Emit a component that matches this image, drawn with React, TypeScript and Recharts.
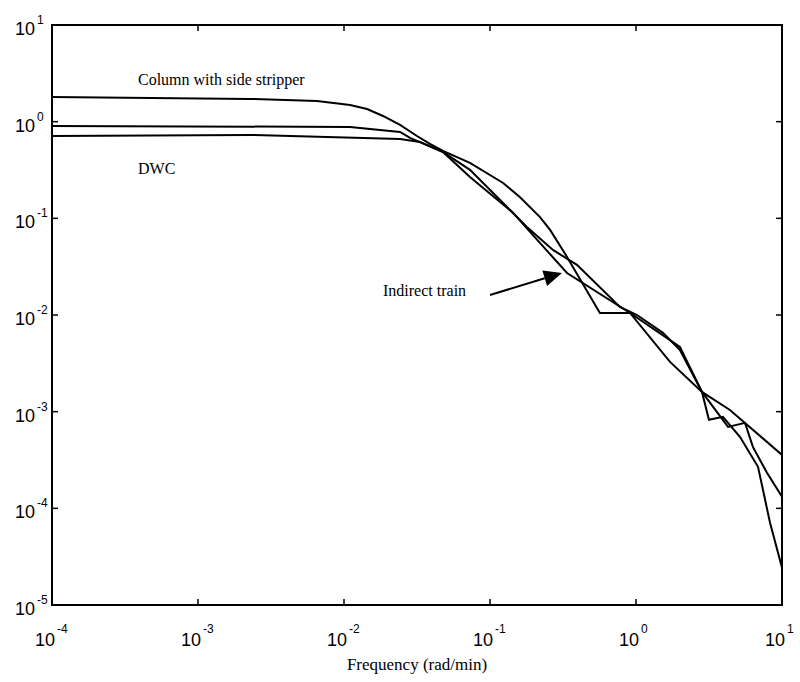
import React from 'react';
import { LineChart, Line, XAxis, YAxis, ReferenceArea, ReferenceLine, ReferenceDot } from 'recharts';

// decade ticks
const xTicks = [1e-4, 1e-3, 1e-2, 1e-1, 1, 10];
const yTicks = [1e-5, 1e-4, 1e-3, 1e-2, 1e-1, 1, 10];

// Column with side stripper
const columnFreq = [1e-4, 2.27e-3, 6.53e-3, 0.011, 0.0144, 0.0185, 0.0242, 0.0316, 0.0388, 0.0476, 0.0729, 0.123, 0.16, 0.22, 0.258, 0.337, 0.566, 0.91, 2.0, 2.83, 3.16, 3.94, 5.15, 6.85, 8.28, 10];
const columnMag = [1.8, 1.72, 1.64, 1.49, 1.35, 1.145, 0.924, 0.711, 0.588, 0.498, 0.374, 0.232, 0.166, 0.103, 0.0759, 0.0399, 0.0105, 0.0105, 0.00468, 0.0016, 0.000823, 0.000884, 0.000549, 0.000269, 0.0000708, 0.0000243];

// Indirect train
const indirectFreq = [1e-4, 0.011, 0.0242, 0.0283, 0.0476, 0.0729, 0.137, 0.179, 0.27, 0.394, 0.776, 1.016, 1.53, 2.0, 2.83, 4.27, 5.58, 6.32, 7.89, 10];
const indirectMag = [0.903, 0.882, 0.782, 0.678, 0.486, 0.317, 0.122, 0.0815, 0.0471, 0.033, 0.0121, 0.01, 0.00653, 0.00435, 0.0016, 0.000696, 0.000766, 0.000432, 0.000233, 0.000132];

// DWC
const dwcFreq = [1e-4, 2.27e-3, 0.0242, 0.0332, 0.0476, 0.0729, 0.144, 0.188, 0.337, 0.91, 1.71, 2.83, 4.4, 10];
const dwcMag = [0.711, 0.729, 0.662, 0.617, 0.486, 0.268, 0.114, 0.0723, 0.0272, 0.0105, 0.00327, 0.0016, 0.00104, 0.000357];

const zip = (xs: number[], ys: number[]) => xs.map((x, i) => ({ x, y: ys[i] }));
const columnData = zip(columnFreq, columnMag);
const indirectData = zip(indirectFreq, indirectMag);
const dwcData = zip(dwcFreq, dwcMag);

const PLOT_W = 730;
const PLOT_H = 580;
const sans = '"Liberation Sans", Arial, sans-serif';
const serif = '"Liberation Serif", "Times New Roman", serif';

const XTick = ({ x, y, payload }: any) => {
	const exp = Math.round(Math.log10(payload.value));
	return (
		<g>
			<line x1={x} y1={y} x2={x} y2={y - 6} stroke="#000" strokeWidth={1.5} />
			<line x1={x} y1={y - PLOT_H} x2={x} y2={y - PLOT_H + 6} stroke="#000" strokeWidth={1.5} />
			<text x={x + 3} y={y + 41} textAnchor="end" fontFamily={sans} fontSize={18} fill="#000">10</text>
			<text x={x + 5} y={y + 28} textAnchor="start" fontFamily={sans} fontSize={12} fill="#000">{exp}</text>
		</g>
	);
};

const YTick = ({ x, y, payload }: any) => {
	const exp = Math.round(Math.log10(payload.value));
	return (
		<g>
			<line x1={x} y1={y} x2={x + 6} y2={y} stroke="#000" strokeWidth={1.5} />
			<line x1={x + PLOT_W} y1={y} x2={x + PLOT_W - 6} y2={y} stroke="#000" strokeWidth={1.5} />
			<text x={x - 17} y={y + 10} textAnchor="end" fontFamily={sans} fontSize={18} fill="#000">10</text>
			<text x={x - 15} y={y - 1} textAnchor="start" fontFamily={sans} fontSize={12} fill="#000">{exp}</text>
		</g>
	);
};

const note = (label: string) => (p: any) => (
	<text x={p.cx} y={p.cy} fontFamily={serif} fontSize={16} fill="#000">{label}</text>
);

const Arrow = (p: any) => {
	const { x1, y1, x2, y2 } = p;
	const dx = x2 - x1;
	const dy = y2 - y1;
	const len = Math.sqrt(dx * dx + dy * dy);
	const ux = dx / len;
	const uy = dy / len;
	const bx = x2 - ux * 18;
	const by = y2 - uy * 18;
	const pts = `${x2},${y2} ${bx - uy * 8},${by + ux * 8} ${bx + uy * 8},${by - ux * 8}`;
	return (
		<g>
			<line x1={x1} y1={y1} x2={bx} y2={by} stroke="#000" strokeWidth={2} />
			<polygon points={pts} fill="#000" />
		</g>
	);
};

export default function App() {
	return (
		<div style={{ position: 'absolute', left: 0, top: 0, width: 800, height: 682, background: '#fff' }}>
			<LineChart width={800} height={682} margin={{ top: 25, right: 18, bottom: 0, left: 0 }}>
				<XAxis
					dataKey="x"
					type="number"
					scale="log"
					domain={[1e-4, 10]}
					ticks={xTicks}
					interval={0}
					height={77}
					tickLine={false}
					axisLine={false}
					tickSize={0}
					tickMargin={0}
					tick={<XTick />}
					allowDataOverflow
					label={{ value: 'Frequency (rad/min)', position: 'insideBottom', offset: 12, fill: '#000', fontFamily: serif, fontSize: 17 }}
				/>
				<YAxis
					dataKey="y"
					type="number"
					scale="log"
					domain={[1e-5, 10]}
					ticks={yTicks}
					interval={0}
					width={52}
					tickLine={false}
					axisLine={false}
					tickSize={0}
					tickMargin={0}
					tick={<YTick />}
					allowDataOverflow
				/>
				<Line data={columnData} dataKey="y" type="linear" stroke="#000" strokeWidth={2} dot={false} isAnimationActive={false} />
				<Line data={indirectData} dataKey="y" type="linear" stroke="#000" strokeWidth={2} dot={false} isAnimationActive={false} />
				<Line data={dwcData} dataKey="y" type="linear" stroke="#000" strokeWidth={2} dot={false} isAnimationActive={false} />
				<ReferenceArea x1={1e-4} x2={10} y1={1e-5} y2={10} fill="none" fillOpacity={0} stroke="#000" strokeWidth={2} ifOverflow="visible" />
				<ReferenceDot x={3.88e-4} y={2.4} r={0} ifOverflow="visible" shape={note('Column with side stripper')} />
				<ReferenceDot x={3.88e-4} y={0.288} r={0} ifOverflow="visible" shape={note('DWC')} />
				<ReferenceDot x={0.0185} y={0.0158} r={0} ifOverflow="visible" shape={note('Indirect train')} />
				<ReferenceLine segment={[{ x: 0.1, y: 0.0161 }, { x: 0.311, y: 0.0272 }]} ifOverflow="visible" shape={Arrow} />
			</LineChart>
		</div>
	);
}
